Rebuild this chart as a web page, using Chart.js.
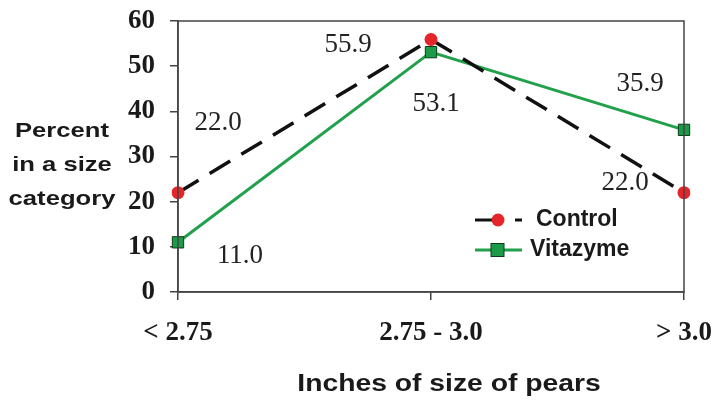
<!DOCTYPE html>
<html>
<head>
<meta charset="utf-8">
<script src="https://cdn.jsdelivr.net/npm/chart.js@4/dist/chart.umd.min.js"></script>
<style>
  html, body { margin: 0; padding: 0; background: #fff; }
  #wrap { width: 715px; height: 403px; position: relative; }
</style>
</head>
<body>
<div id="wrap"><canvas id="PearSize"></canvas></div>
<script>
// Pear size categories //
var sizeLabels = ["< 2.75", "2.75 - 3.0", "> 3.0"];
var controlValues = [22.0, 55.9, 22.0];
var vitazymeValues = [11.0, 53.1, 35.9];
var yTicks = [0, 10, 20, 30, 40, 50, 60];
var yTitleLines = ["Percent", "in a size", "category"];
var xTitle = "Inches of size of pears";

var greenLine = "#22a04b";
var greenFill = "#1b9a47";
var redFill = "#e4262b";
var ink = "#1a1a1a";

// where each value label sits relative to its point
var labelOffsets = [
  [[40, -70], [-83, 5], [-59, -10]],
  [[62, 14], [5, 52], [-44, -46]]
];

// text stretched sideways a bit, like the original
function wideText(c, t, x, y, sx) {
  c.save();
  c.translate(x, y);
  c.scale(sx, 1);
  c.fillText(t, 0, 0);
  c.restore();
}

var extras = {
  id: "extras",
  afterDraw: function(chart) {
    var c = chart.ctx, a = chart.chartArea;
    c.save();
    // box around plot
    c.strokeStyle = "#444";
    c.lineWidth = 1.5;
    c.strokeRect(a.left, a.top, a.right - a.left, a.bottom - a.top);

    // value labels
    c.fillStyle = "#222";
    c.font = "27px 'Liberation Serif', serif";
    c.textAlign = "center";
    c.textBaseline = "middle";
    chart.data.datasets.forEach(function(ds, i) {
      chart.getDatasetMeta(i).data.forEach(function(pt, j) {
        var o = labelOffsets[i][j];
        c.fillText(ds.data[j].toFixed(1), pt.x + o[0], pt.y + o[1]);
      });
    });

    // y title, horizontal
    c.fillStyle = ink;
    c.font = "bold 21px 'Liberation Sans', Arial, sans-serif";
    c.textAlign = "center";
    yTitleLines.forEach(function(t, k) {
      wideText(c, t, 62, 131 + k * 34, 1.22);
    });

    // x title
    c.font = "bold 23px 'Liberation Sans', Arial, sans-serif";
    wideText(c, xTitle, 449, 385, 1.23);

    // legend
    var lx = 475, ly = [220, 250];
    c.lineWidth = 3;
    c.strokeStyle = "#111";
    c.beginPath(); c.moveTo(lx, ly[0]); c.lineTo(lx + 18, ly[0]); c.stroke();
    c.beginPath(); c.moveTo(lx + 40, ly[0]); c.lineTo(lx + 47, ly[0]); c.stroke();
    c.fillStyle = redFill;
    c.beginPath(); c.arc(lx + 23, ly[0], 6.5, 0, Math.PI * 2); c.fill();
    c.strokeStyle = greenLine;
    c.beginPath(); c.moveTo(lx, ly[1]); c.lineTo(lx + 47, ly[1]); c.stroke();
    c.fillStyle = greenFill;
    c.fillRect(lx + 16, ly[1] - 6.5, 13, 13);
    c.lineWidth = 1;
    c.strokeStyle = "#0c3d1c";
    c.strokeRect(lx + 16, ly[1] - 6.5, 13, 13);
    c.fillStyle = ink;
    c.font = "bold 23px 'Liberation Sans', Arial, sans-serif";
    c.textAlign = "left";
    c.fillText("Control", lx + 61, ly[0]);
    c.fillText("Vitazyme", lx + 55, ly[1]);
    c.restore();
  }
};

var ctx = document.getElementById("PearSize").getContext("2d");
var myChart = new Chart(ctx, {
  type: "line",
  data: {
    labels: sizeLabels,
    datasets: [
      {
        label: "Control",
        data: controlValues,
        fill: false,
        borderColor: "#111",
        borderWidth: 3.5,
        borderDash: [24, 13],
        pointStyle: "circle",
        pointRadius: 6.5,
        pointBackgroundColor: redFill,
        pointBorderColor: redFill,
        pointBorderWidth: 0,
        tension: 0,
      },
      {
        label: "Vitazyme",
        data: vitazymeValues,
        fill: false,
        borderColor: greenLine,
        borderWidth: 3,
        pointStyle: "rect",
        pointRadius: 8,
        pointBackgroundColor: greenFill,
        pointBorderColor: "#0c3d1c",
        pointBorderWidth: 1,
        tension: 0,
      },
    ],
  },
  options: {
    responsive: true,
    maintainAspectRatio: false,
    animation: false,
    layout: { padding: { left: 0, right: 31, top: 21, bottom: 0 } },
    plugins: { legend: { display: false }, tooltip: { enabled: false } },
    scales: {
      x: {
        offset: false,
        afterFit: function(scale) {
          scale.height = 111;
          scale.paddingLeft = 0;
          scale.paddingRight = 0;
        },
        grid: { drawOnChartArea: false, drawTicks: true, tickLength: 8, color: "#444", lineWidth: 1.5 },
        border: { display: true, color: "#444", width: 1.5 },
        ticks: {
          color: ink,
          padding: 17,
          maxRotation: 0,
          font: { family: "'Liberation Serif', serif", size: 27, weight: "bold" },
        },
      },
      y: {
        min: 0,
        max: 60,
        afterBuildTicks: function(scale) {
          scale.ticks = yTicks.map(function(v) { return { value: v }; });
        },
        afterFit: function(scale) {
          scale.width = 178;
          scale.paddingTop = 0;
          scale.paddingBottom = 0;
        },
        grid: { drawOnChartArea: false, drawTicks: true, tickLength: 8, color: "#444", lineWidth: 1.5 },
        border: { display: true, color: "#444", width: 1.5 },
        ticks: {
          color: ink,
          padding: 15,
          font: { family: "'Liberation Serif', serif", size: 27, weight: "bold" },
        },
      },
    },
  },
  plugins: [extras],
});
</script>
</body>
</html>
